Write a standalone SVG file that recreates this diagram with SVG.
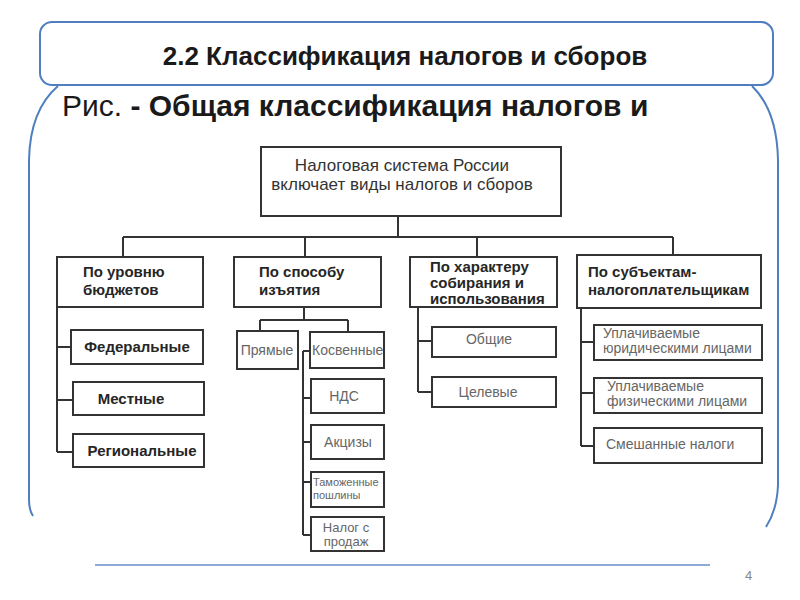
<svg xmlns="http://www.w3.org/2000/svg" width="800" height="600" viewBox="0 0 800 600">
<style>
.frame{fill:none;stroke:#4f7fc0;stroke-width:2}
.box{fill:#fff;stroke:#333;stroke-width:2}
.ln{fill:none;stroke:#333;stroke-width:2}
text{font-family:"Liberation Sans",Arial,sans-serif}
.top{font-size:17px;fill:#333}
.l2{font-size:15px;font-weight:bold;fill:#262626}
.l3b{font-size:15px;font-weight:bold;fill:#262626}
.g{font-size:14px;fill:#666}
.gm{font-size:13px;fill:#666}
.gs{font-size:11px;fill:#666}
</style>
<rect width="800" height="600" fill="#fff"/>
<g id="frame">
<path class="frame" d="M58 86 Q30 110 29 160 L29 500 Q29 510 33 516"/>
<path class="frame" d="M752 86 Q777 110 778 160 L778 485 Q777 510 766 527"/>
<line x1="95" y1="565" x2="710" y2="565" stroke="#8eaad8" stroke-width="2"/>
<rect x="40" y="22" width="733" height="63" rx="12" fill="#fff" stroke="#4f7fc0" stroke-width="2"/>
<text x="405" y="65" text-anchor="middle" font-size="26" font-weight="bold" fill="#1a1a1a">2.2 Классификация налогов и сборов</text>
<text x="62" y="116" font-size="30" fill="#1a1a1a">Рис. <tspan font-weight="bold">- Общая классификация налогов и</tspan></text>
<text x="745" y="580" font-size="13" fill="#888">4</text>
</g>
<g id="connectors">
<path class="ln" d="M398 216 V237 M123 237 H673 M123 237 V257 M305 237 V257 M477 237 V257 M673 237 V255"/>
<path class="ln" d="M57 307 V452 M57 347 H71 M57 400 H73 M57 452 H73"/>
<path class="ln" d="M304 307 V320 M260 320 H348 M260 320 V331 M348 320 V332"/>
<path class="ln" d="M303 351 V535 M303 351 H310 M303 398 H311 M303 442 H311 M303 482 H311 M303 535 H311"/>
<path class="ln" d="M418 307 V392 M418 341 H432 M418 392 H432"/>
<path class="ln" d="M581 308 V446 M581 342 H594 M581 393 H594 M581 446 H594"/>
</g>
<g id="n-root">
<rect class="box" x="261" y="147" width="300" height="69"/>
<text class="top" x="402" y="171" text-anchor="middle">Налоговая система России</text>
<text class="top" x="402" y="190" text-anchor="middle">включает виды налогов и сборов</text>
</g>
<g id="n-budget">
<rect class="box" x="57" y="257" width="146" height="50"/>
<text class="l2" x="83" y="277">По уровню</text>
<text class="l2" x="83" y="295">бюджетов</text>
</g>
<g id="n-method">
<rect class="box" x="234" y="257" width="147" height="50"/>
<text class="l2" x="259" y="277">По способу</text>
<text class="l2" x="259" y="295">изъятия</text>
</g>
<g id="n-character">
<rect class="box" x="410" y="257" width="147" height="50"/>
<text class="l2" x="430" y="272">По характеру</text>
<text class="l2" x="430" y="288">собирания и</text>
<text class="l2" x="430" y="304">использования</text>
</g>
<g id="n-subjects">
<rect class="box" x="577" y="255" width="184" height="53"/>
<text class="l2" x="588" y="277">По субъектам-</text>
<text class="l2" x="588" y="295">налогоплательщикам</text>
</g>
<g id="n-federal">
<rect class="box" x="71" y="330" width="132" height="34"/>
<text class="l3b" x="137" y="352" text-anchor="middle">Федеральные</text>
</g>
<g id="n-local">
<rect class="box" x="73" y="382" width="131" height="33"/>
<text class="l3b" x="131" y="404" text-anchor="middle">Местные</text>
</g>
<g id="n-regional">
<rect class="box" x="73" y="434" width="131" height="33"/>
<text class="l3b" x="142" y="456" text-anchor="middle">Региональные</text>
</g>
<g id="n-direct">
<rect class="box" x="237" y="331" width="61" height="38"/>
<text class="g" x="267" y="355" text-anchor="middle">Прямые</text>
</g>
<g id="n-indirect">
<rect class="box" x="310" y="332" width="74" height="36"/>
<text class="g" x="312" y="355">Косвенные</text>
</g>
<g id="n-vat">
<rect class="box" x="311" y="379" width="73" height="34"/>
<text class="g" x="344" y="401" text-anchor="middle">НДС</text>
</g>
<g id="n-excise">
<rect class="box" x="311" y="425" width="73" height="34"/>
<text class="g" x="348" y="447" text-anchor="middle">Акцизы</text>
</g>
<g id="n-customs">
<rect class="box" x="311" y="472" width="73" height="35"/>
<text class="gs" x="313" y="486">Таможенные</text>
<text class="gs" x="313" y="499">пошлины</text>
</g>
<g id="n-sales">
<rect class="box" x="311" y="517" width="73" height="34"/>
<text class="gm" x="346" y="532" text-anchor="middle">Налог с</text>
<text class="gm" x="346" y="546" text-anchor="middle">продаж</text>
</g>
<g id="n-general">
<rect class="box" x="432" y="327" width="124" height="30"/>
<text class="g" x="489" y="344" text-anchor="middle">Общие</text>
</g>
<g id="n-target">
<rect class="box" x="432" y="377" width="124" height="30"/>
<text class="g" x="488" y="397" text-anchor="middle">Целевые</text>
</g>
<g id="n-legal">
<rect class="box" x="594" y="325" width="168" height="35"/>
<text class="g" x="603" y="338">Уплачиваемые</text>
<text class="g" x="603" y="353">юридическими лицами</text>
</g>
<g id="n-physical">
<rect class="box" x="594" y="378" width="168" height="35"/>
<text class="g" x="607" y="391">Уплачиваемые</text>
<text class="g" x="607" y="406">физическими лицами</text>
</g>
<g id="n-mixed">
<rect class="box" x="594" y="428" width="168" height="35"/>
<text class="g" x="606" y="449">Смешанные налоги</text>
</g>
</svg>
